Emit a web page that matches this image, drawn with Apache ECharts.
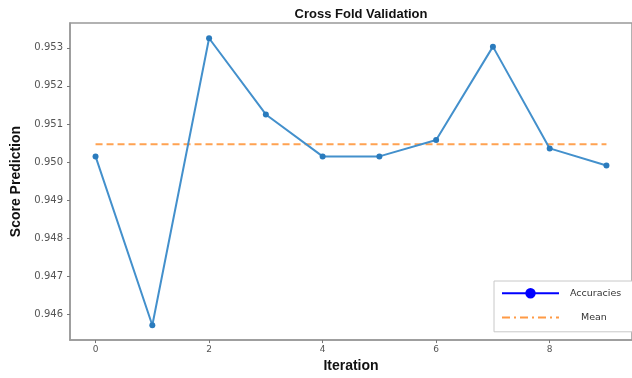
<!DOCTYPE html>
<html>
<head>
<meta charset="utf-8">
<script src="https://cdn.jsdelivr.net/npm/echarts@6/dist/echarts.min.js"></script>
<style>html,body{margin:0;padding:0;background:#fff}#c{width:632px;height:378px}</style>
</head>
<body>
<div id="c"></div>
<script>
var iterations = [0, 1, 2, 3, 4, 5, 6, 7, 8, 9];
var accuracies = [0.95015, 0.94572, 0.95325, 0.95125, 0.95015, 0.95015, 0.95058, 0.95303, 0.95036, 0.94991];
var meanValue = 0.95047;
var xTicks = [0, 2, 4, 6, 8];
var yTicks = [0.946, 0.947, 0.948, 0.949, 0.950, 0.951, 0.952, 0.953];

var chart = echarts.init(document.getElementById('c'), null, {renderer: 'canvas'});
chart.setOption({
  animation: false,
  backgroundColor: '#fff',
  title: {
    text: 'Cross Fold Validation',
    left: 356, top: 3, textAlign: 'center',
    textStyle: {fontFamily: 'Liberation Sans', fontWeight: 'bold', fontSize: 13, color: '#111'}
  },
  grid: {left: 70, top: 23, width: 573, height: 324, show: true, borderColor: '#999', borderWidth: 1.5, backgroundColor: 'transparent'},
  xAxis: {
    type: 'value', min: -0.45, max: 9.45,
    name: 'Iteration', nameLocation: 'middle', nameGap: 15,
    nameTextStyle: {fontFamily: 'Liberation Sans', fontWeight: 'bold', fontSize: 14, color: '#111'},
    axisLine: {show: true, onZero: false, lineStyle: {color: '#999', width: 1.5}},
    axisTick: {show: true, customValues: xTicks, length: 3, lineStyle: {color: '#777'}},
    axisLabel: {customValues: xTicks, margin: 5, formatter: function (v) { return String(v); }, color: '#555', fontSize: 9, fontFamily: 'DejaVu Sans'},
    splitLine: {show: false}
  },
  yAxis: {
    type: 'value', min: 0.94533, max: 0.95365,
    name: 'Score Prediction', nameLocation: 'middle', nameGap: 43, nameRotate: 90,
    nameTextStyle: {fontFamily: 'Liberation Sans', fontWeight: 'bold', fontSize: 14, color: '#111'},
    axisLine: {show: true, onZero: false, lineStyle: {color: '#999', width: 1.5}},
    axisTick: {show: true, customValues: yTicks, length: 3, lineStyle: {color: '#777'}},
    axisLabel: {customValues: yTicks, margin: 7, formatter: function (v) { return v.toFixed(3); }, color: '#555', fontSize: 10, fontFamily: 'DejaVu Sans'},
    splitLine: {show: false}
  },
  legend: {
    orient: 'vertical',
    left: 494, top: 281,
    padding: [7, 20, 9, 7],
    itemGap: 14,
    itemWidth: 57, itemHeight: 13,
    backgroundColor: '#fff',
    borderColor: '#c8c8c8', borderWidth: 1,
    textStyle: {fontFamily: 'DejaVu Sans', fontSize: 9.5, color: '#333', padding: [0, 0, 0, 6]},
    data: [
      {name: 'Accuracies', itemStyle: {color: '#0000ff'}, lineStyle: {color: '#0000ff', width: 2}},
      {name: 'Mean', itemStyle: {opacity: 0, color: 'rgba(0,0,0,0)'}, lineStyle: {color: '#ff9a45', width: 2, type: [8, 4, 2, 4]}, textStyle: {padding: [0, 0, 0, 17]}}
    ]
  },
  series: [
    {
      name: 'Accuracies', type: 'line',
      data: iterations.map(function (x, i) { return [x, accuracies[i]]; }),
      symbol: 'circle', symbolSize: 6, showSymbol: true,
      lineStyle: {color: '#4390cc', width: 2},
      itemStyle: {color: '#2a7bbd'},
      z: 3
    },
    {
      name: 'Mean', type: 'line',
      data: iterations.map(function (x) { return [x, meanValue]; }),
      symbol: 'none', showSymbol: false,
      lineStyle: {color: '#ffa252', width: 2, type: [7, 4]},
      z: 2
    }
  ]
});
</script>
</body>
</html>
